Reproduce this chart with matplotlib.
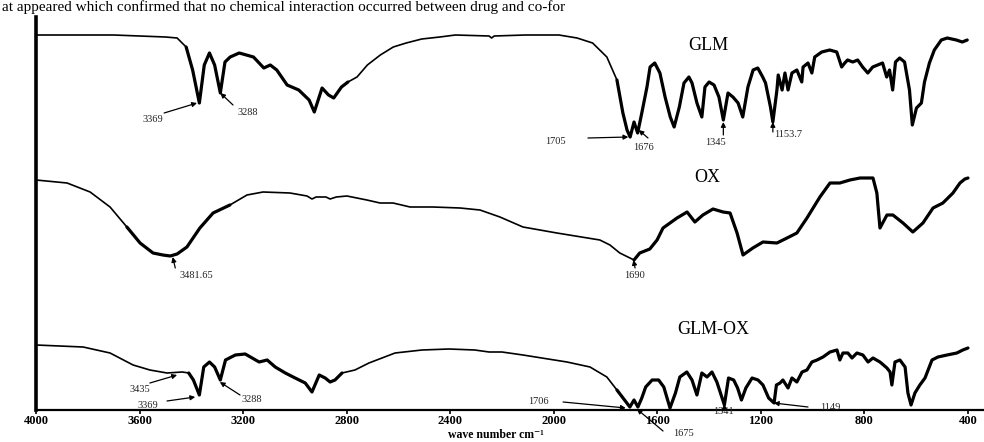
import matplotlib.pyplot as plt
import numpy as np

# FTIR spectra, wave number (cm-1) vs transmittance (arbitrary units, stacked)
glm = [(4000, 380), (3700, 380), (3500, 378), (3455, 377), (3420, 368), (3395, 345),
       (3369, 312), (3350, 350), (3330, 362), (3310, 350), (3288, 322), (3270, 353),
       (3250, 358), (3215, 362), (3160, 358), (3120, 347), (3095, 350), (3070, 345),
       (3030, 330), (2985, 325), (2945, 315), (2925, 303), (2895, 327), (2870, 320),
       (2850, 317), (2820, 328), (2795, 333), (2760, 338), (2720, 350), (2670, 360),
       (2620, 368), (2570, 372), (2510, 376), (2440, 378), (2380, 380), (2250, 379),
       (2240, 377), (2230, 379), (2110, 380), (1980, 380), (1910, 377), (1850, 372),
       (1795, 358), (1756, 335), (1733, 302), (1717, 285), (1705, 278), (1690, 293),
       (1676, 282), (1660, 302), (1640, 328), (1628, 348), (1610, 352), (1590, 342),
       (1570, 318), (1550, 298), (1535, 288), (1515, 308), (1497, 332), (1478, 338),
       (1466, 332), (1447, 312), (1428, 298), (1416, 328), (1400, 333), (1381, 330),
       (1362, 318), (1345, 295), (1327, 322), (1308, 318), (1288, 312), (1270, 298),
       (1250, 328), (1230, 345), (1212, 347), (1193, 338), (1182, 332), (1163, 308),
       (1153.7, 293), (1138, 325), (1133, 340), (1118, 325), (1107, 342), (1095, 325),
       (1080, 342), (1061, 345), (1042, 333), (1037, 348), (1018, 352), (1003, 342),
       (992, 358), (965, 363), (934, 365), (907, 363), (888, 348), (876, 352),
       (865, 355), (845, 353), (826, 355), (807, 348), (787, 342), (768, 348),
       (730, 352), (714, 338), (703, 345), (691, 325), (680, 353), (664, 357),
       (645, 353), (626, 325), (615, 290), (599, 307), (580, 312), (568, 333),
       (549, 352), (530, 365), (503, 375), (480, 377), (445, 375), (422, 373), (403, 375)]

ox = [(4000, 235), (3880, 232), (3791, 223), (3714, 208), (3649, 188), (3598, 172),
      (3548, 162), (3510, 160), (3481.65, 159), (3455, 161), (3417, 168), (3367, 187),
      (3316, 202), (3251, 210), (3185, 220), (3123, 223), (3019, 222), (2953, 219),
      (2934, 216), (2918, 218), (2880, 218), (2864, 216), (2840, 218), (2799, 219),
      (2722, 215), (2671, 212), (2621, 212), (2555, 208), (2467, 208), (2362, 207),
      (2285, 205), (2208, 198), (2119, 188), (1988, 182), (1822, 175), (1783, 170),
      (1745, 162), (1690, 155), (1668, 162), (1629, 166), (1601, 175), (1578, 187),
      (1524, 197), (1485, 203), (1455, 193), (1424, 200), (1385, 206), (1346, 203),
      (1319, 202), (1292, 182), (1269, 160), (1231, 167), (1192, 173), (1138, 172),
      (1099, 177), (1061, 182), (1022, 197), (972, 218), (933, 232), (895, 232),
      (856, 235), (817, 237), (767, 237), (752, 222), (740, 187), (713, 200),
      (690, 200), (651, 192), (613, 183), (574, 192), (535, 207), (497, 212),
      (458, 222), (431, 232), (412, 236), (400, 237)]

glm_ox = [(4000, 70), (3818, 68), (3714, 62), (3625, 50), (3560, 45), (3494, 42),
          (3435, 43), (3410, 42), (3392, 35), (3369, 20), (3352, 48), (3330, 53),
          (3310, 48), (3288, 35), (3268, 55), (3230, 60), (3192, 61), (3138, 53),
          (3107, 55), (3076, 48), (3037, 42), (2999, 37), (2960, 32), (2934, 23),
          (2906, 40), (2883, 37), (2864, 33), (2845, 35), (2818, 42), (2768, 45),
          (2714, 52), (2613, 62), (2509, 65), (2405, 66), (2305, 65), (2250, 63),
          (2200, 63), (2119, 60), (1949, 53), (1860, 48), (1795, 38), (1756, 25),
          (1706, 8), (1690, 15), (1675, 8), (1660, 17), (1645, 28), (1620, 35),
          (1595, 35), (1575, 28), (1551, 7), (1530, 22), (1513, 38), (1486, 43),
          (1466, 35), (1447, 20), (1428, 42), (1408, 38), (1389, 43), (1370, 33),
          (1341, 10), (1325, 37), (1305, 35), (1290, 27), (1275, 15), (1258, 27),
          (1234, 37), (1211, 35), (1192, 30), (1170, 17), (1149, 12), (1140, 30),
          (1126, 32), (1115, 35), (1095, 27), (1080, 37), (1061, 33), (1041, 43),
          (1022, 45), (1003, 53), (983, 55), (960, 58), (933, 63), (906, 65),
          (895, 55), (883, 62), (864, 62), (848, 57), (829, 62), (806, 60),
          (786, 53), (767, 57), (740, 53), (713, 47), (701, 43), (694, 30),
          (682, 53), (663, 55), (643, 48), (632, 22), (620, 10), (605, 22),
          (586, 30), (566, 37), (539, 55), (516, 58), (481, 60), (443, 62),
          (420, 65), (400, 67)]

xticks = [4000, 3600, 3200, 2800, 2400, 2000, 1600, 1200, 800, 400]

serif = ['Liberation Serif', 'DejaVu Serif']
plt.rcParams['font.family'] = serif

fig = plt.figure(figsize=(9.84, 4.42), dpi=100)
ax = fig.add_axes([36 / 984, 32 / 442, 947 / 984, 393 / 442])
ax.set_xlim(4000, 342)
ax.set_ylim(5, 398)


def draw(points, heavy):
    wn, t = np.array(points, dtype=float).T
    ax.plot(wn, t, color='black', lw=1.2, solid_joinstyle='round')
    for hi, lo in heavy:
        m = (wn <= hi) & (wn >= lo)
        ax.plot(wn[m], t[m], color='black', lw=2.3, solid_joinstyle='round',
                solid_capstyle='round')


draw(glm, [(3440, 2780), (1780, 400)])
draw(ox, [(3700, 3250), (1720, 400)])
draw(glm_ox, [(3420, 2800), (1760, 400)])

# sample names
name_kw = dict(ha='center', va='center', fontsize=13)
ax.text(1404, 370, 'GLM', **name_kw)
ax.text(1408, 237, 'OX', **name_kw)
ax.text(1385, 85, 'GLM-OX', **name_kw)

# peak labels: (label, text position, arrow tail, arrow tip)
peaks = [
    ('3369', (3548, 296), (3505, 302), (3378, 312)),
    ('3288', (3181, 303), (3239, 310), (3288, 322)),
    ('1705', (1995, 274), (1868, 277), (1712, 278)),
    ('1676', (1655, 268), (1636, 277), (1672, 285)),
    ('1345', (1375, 273), (1345, 280), (1345, 293)),
    ('1153.7', (1095, 281), (1153.7, 283), (1153.7, 293)),
    ('3481.65', (3380, 139), (3462, 147), (3472, 158)),
    ('1690', (1690, 139), (1686, 147), (1692, 155)),
    ('3435', (3598, 26), (3560, 32), (3455, 40)),
    ('3369', (3567, 10), (3494, 14), (3385, 18)),
    ('3288', (3166, 16), (3212, 20), (3290, 33)),
    ('1706', (2061, 14), (1964, 13), (1722, 7)),
    ('1675', (1500, -19), (1578, -16), (1679, 6)),
    ('1341', (1345, 3), (1341, 5), (1341, 11)),
    ('1149', (933, 8), (1018, 8), (1150, 12)),
]
for label, txt, tail, tip in peaks:
    ax.text(txt[0], txt[1], label, ha='center', va='center', fontsize=7.5,
            color='#222222', clip_on=False)
    ax.annotate('', xy=tip, xytext=tail, annotation_clip=False,
                arrowprops=dict(arrowstyle='-|>', color='black', lw=0.9,
                                mutation_scale=7, shrinkA=0, shrinkB=0))

for side in ['top', 'right']:
    ax.spines[side].set_visible(False)
ax.spines['left'].set_linewidth(2.6)
ax.spines['bottom'].set_linewidth(1.6)
ax.set_yticks([])
ax.set_xticks(xticks)
ax.set_xticklabels([str(v) for v in xticks], fontweight='bold', fontsize=9)
ax.tick_params(axis='x', direction='out', length=3, width=1.2, pad=0.5)
ax.set_xlabel('wave number cm⁻¹', fontweight='bold', fontsize=8.5, va='bottom')
ax.xaxis.set_label_coords(0.486, -31.5 / 393)

fig.text(0.002, 1 - 0.5 / 442, 'at appeared which confirmed that no chemical interaction '
         'occurred between drug and co-for', fontsize=11, va='top', ha='left')

fig.savefig('out.png', dpi=100)
